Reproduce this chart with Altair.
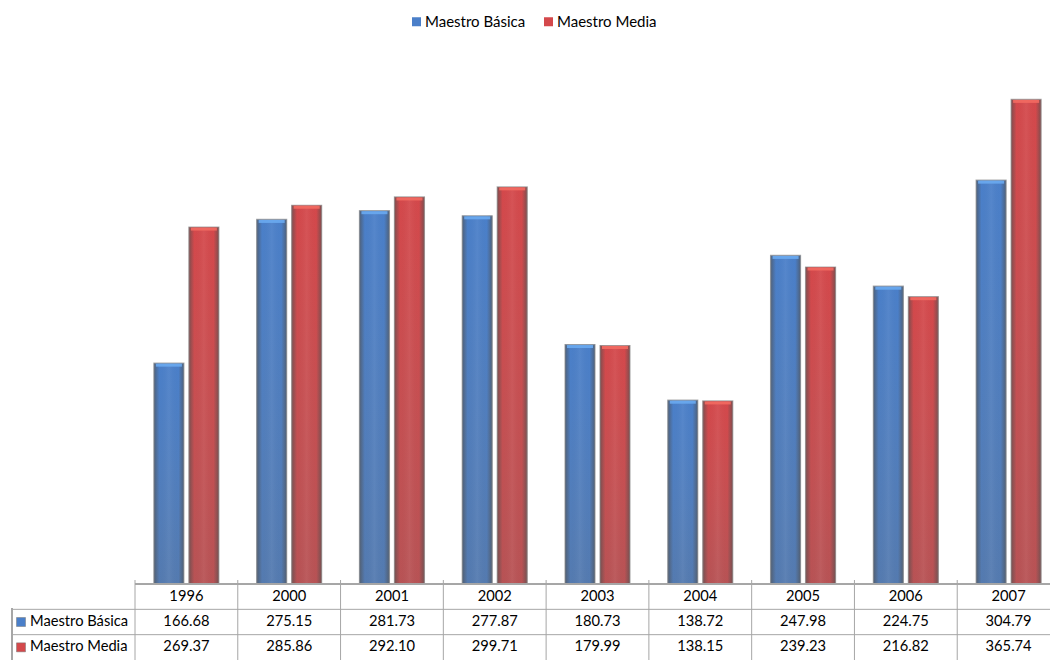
import altair as alt
import pandas as pd

# Teacher salary series by year
years = ["1996", "2000", "2001", "2002", "2003", "2004", "2005", "2006", "2007"]
basica = [166.68, 275.15, 281.73, 277.87, 180.73, 138.72, 247.98, 224.75, 304.79]
media = [269.37, 285.86, 292.10, 299.71, 179.99, 138.15, 239.23, 216.82, 365.74]
series = ["Maestro Básica", "Maestro Media"]

colors = ["#4a7fc9", "#d4484b"]
cap_colors = ["#6aaaf0", "#f26a62"]
FONT = "Lato"
LINE = "#a6a6a6"

bars_df = pd.DataFrame({
    "year": years * 2,
    "serie": [series[0]] * len(years) + [series[1]] * len(years),
    "valor": basica + media,
})

rows = ["header"] + series
table_df = pd.DataFrame(
    [{"year": y, "fila": "header", "texto": y} for y in years]
    + [{"year": y, "fila": series[0], "texto": f"{v:.2f}"} for y, v in zip(years, basica)]
    + [{"year": y, "fila": series[1], "texto": f"{v:.2f}"} for y, v in zip(years, media)]
)
labels_df = pd.DataFrame({"fila": series, "serie": series})
years_df = pd.DataFrame({"year": years})

x_scale = alt.Scale(domain=years, range=[135, 1060], paddingInner=0, paddingOuter=0)
off_scale = alt.Scale(domain=series, paddingInner=1 / 7, paddingOuter=0.54)
y_scale = alt.Scale(domain=[0, 400], range=[584, 54], nice=False, zero=True)
row_scale = alt.Scale(domain=rows, range=[584, 660], paddingInner=0, paddingOuter=0)

X = alt.X("year:N", scale=x_scale, axis=None)
XO = alt.XOffset("serie:N", scale=off_scale)
Y = alt.Y("valor:Q", scale=y_scale, axis=None)
ROW = alt.Y("fila:N", scale=row_scale, axis=None)

base = alt.Chart(bars_df)

bars = base.mark_bar().encode(
    x=X, xOffset=XO, y=Y,
    color=alt.Color(
        "serie:N",
        scale=alt.Scale(domain=series, range=colors),
        legend=alt.Legend(
            title=None, orient="none", legendX=409, legendY=14,
            direction="horizontal", symbolType="square", symbolSize=81,
            symbolStrokeWidth=0, labelFont=FONT, labelFontSize=15,
            labelColor="#000000", labelOffset=1, columnPadding=15, padding=0,
        ),
    ),
)

# side shading for the cylinder-like look
side_shade = base.mark_bar(
    fill=alt.LinearGradient(
        gradient="linear", x1=0, x2=1, y1=0, y2=0,
        stops=[
            alt.GradientStop(color="rgba(80,80,80,0.65)", offset=0),
            alt.GradientStop(color="rgba(80,80,80,0.0)", offset=0.18),
            alt.GradientStop(color="rgba(255,255,255,0.06)", offset=0.5),
            alt.GradientStop(color="rgba(80,80,80,0.0)", offset=0.82),
            alt.GradientStop(color="rgba(80,80,80,0.65)", offset=1),
        ],
    ),
    stroke="#8c8c8c", strokeWidth=1.2, strokeOpacity=0.7,
).encode(x=X, xOffset=XO, y=Y)

# bars fade toward the base
fade = base.mark_bar(
    fill=alt.LinearGradient(
        gradient="linear", x1=0, x2=0, y1=0, y2=1,
        stops=[
            alt.GradientStop(color="rgba(130,130,130,0.0)", offset=0),
            alt.GradientStop(color="rgba(110,110,110,0.28)", offset=1),
        ],
    ),
).encode(x=X, xOffset=XO, y=Y)

caps = [
    base.transform_filter(alt.datum.serie == s).mark_tick(
        color=c, thickness=3, size=26, yOffset=2, opacity=0.9
    ).encode(x=X, xOffset=XO, y=Y)
    for s, c in zip(series, cap_colors)
]

# data table under the plot
table_text = alt.Chart(table_df).mark_text(
    font=FONT, fontSize=14.7, color="#000000", baseline="middle"
).encode(x=X, y=ROW, text="texto:N")

top_line = alt.Chart(years_df).mark_rule(color=LINE, strokeWidth=1).encode(
    y=alt.value(584), x=alt.value(135), x2=alt.value(1050)
)
row_lines = alt.Chart(labels_df).mark_rule(color=LINE, strokeWidth=1).encode(
    y=alt.Y("fila:N", scale=row_scale, axis=None, bandPosition=0),
    x=alt.value(12), x2=alt.value(1050),
)
col_lines = alt.Chart(years_df).mark_rule(color=LINE, strokeWidth=1).encode(
    x=alt.X("year:N", scale=x_scale, axis=None, bandPosition=0),
    y=alt.value(580), y2=alt.value(660),
)
left_line = alt.Chart(years_df).mark_rule(color=LINE, strokeWidth=1).encode(
    x=alt.value(12), y=alt.value(608), y2=alt.value(660)
)

row_labels = alt.Chart(labels_df).mark_text(
    font=FONT, fontSize=14.7, color="#000000", align="left", baseline="middle"
).encode(x=alt.value(30), y=ROW, text="fila:N")

row_squares = [
    alt.Chart(labels_df).transform_filter(alt.datum.serie == s).mark_square(
        size=81, color=c, opacity=1, stroke="#777777", strokeWidth=0.5
    ).encode(x=alt.value(21), y=ROW)
    for s, c in zip(series, colors)
]

chart = alt.layer(
    bars, fade, side_shade, *caps,
    top_line, row_lines, col_lines, left_line,
    table_text, row_labels, *row_squares,
).resolve_scale(y="independent").properties(
    width=1050, height=660, padding=0,
    autosize=alt.AutoSizeParams(type="none"),
).configure_view(stroke=None)

chart.save("out.html", embed_options={"renderer": "svg", "actions": False})
